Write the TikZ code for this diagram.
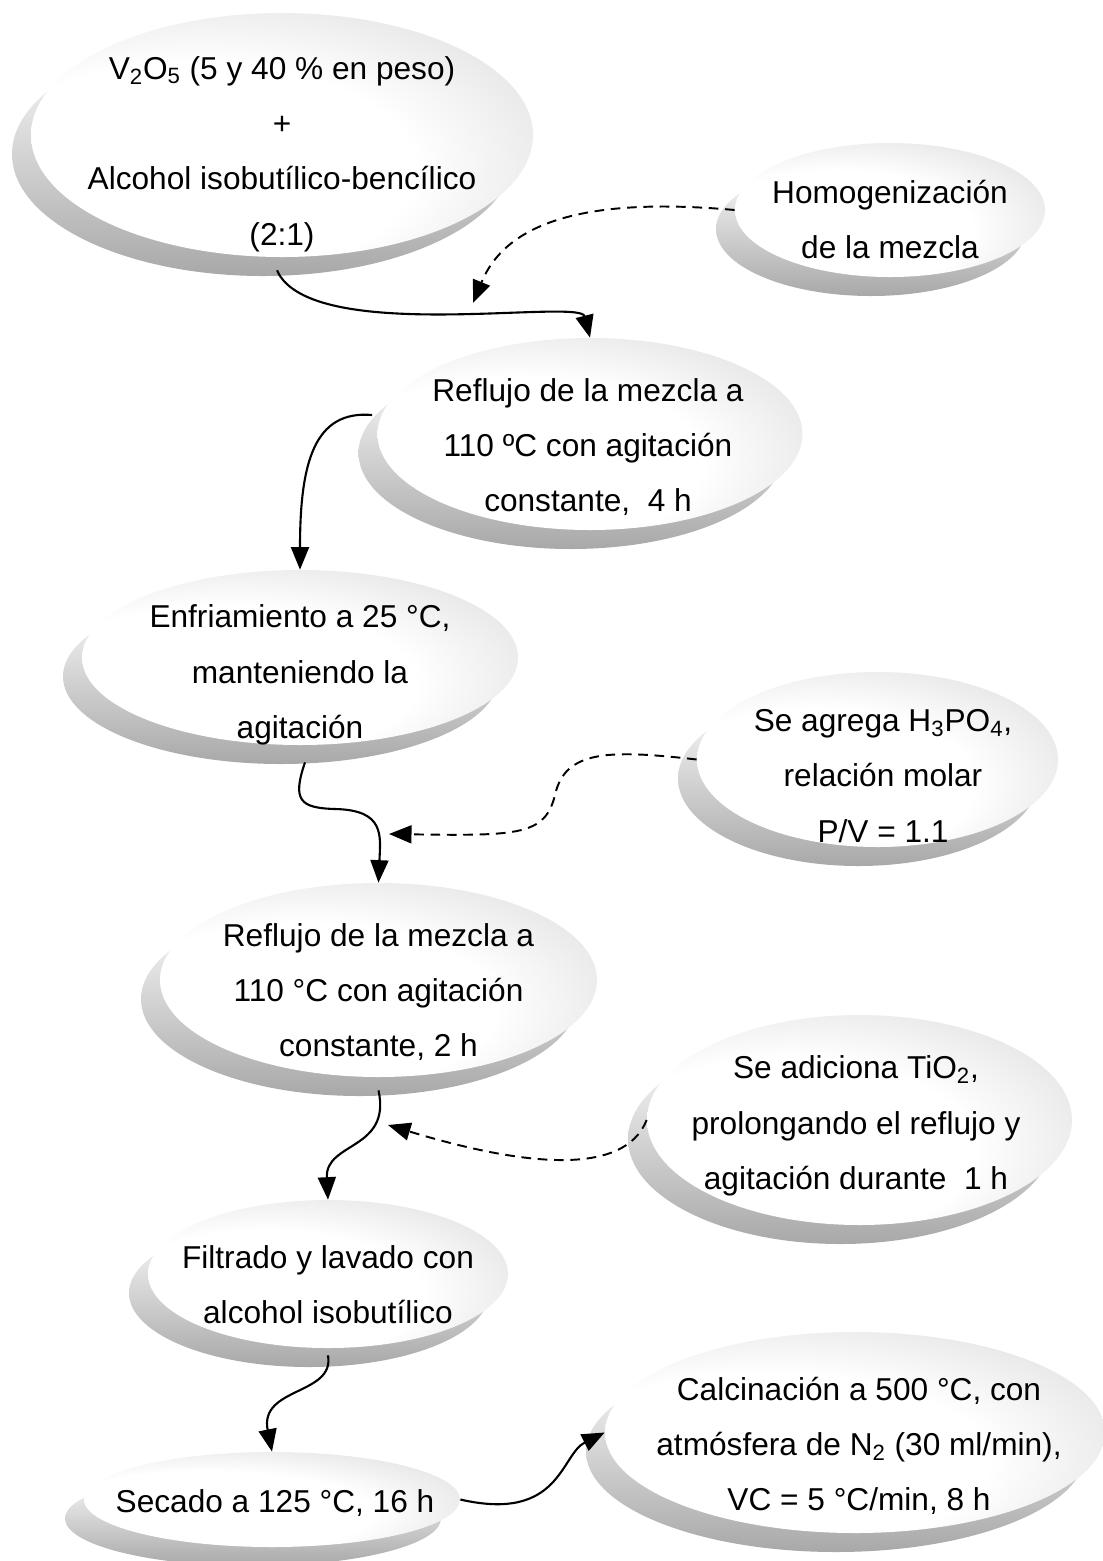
\documentclass[tikz,border=0pt]{standalone}
\usepackage{fontspec}
\setmainfont{Liberation Sans}
\usetikzlibrary{arrows.meta,shapes.geometric,shadows}
\pgfdeclareradialshading{cara}{\pgfpoint{-12bp}{-10bp}}{color(0bp)=(white); color(22bp)=(white); color(52bp)=(gray!42); color(80bp)=(gray!42)}

\begin{document}
\begin{tikzpicture}[
    disco/.style={ellipse, inner sep=0pt, shade, shading=cara,
      general shadow={shadow xshift=-0.38cm, shadow yshift=-0.38cm, top color=white, bottom color=gray!68}},
    texto/.style={align=center, font=\fontsize{18}{31.5}\selectfont},
    flecha/.style={line width=1.2pt, -{Triangle[length=0.45cm, width=0.36cm]}},
    aporte/.style={flecha, line width=1.1pt, dash pattern=on 5.5pt off 3.8pt}]
    \useasboundingbox (0,0) rectangle (22.04,-31.22);
    % pasos
    \node [disco, minimum width=10.04cm, minimum height=4.88cm,
        label={[texto, yshift=-0.38cm]center:{V\textsubscript{2}O\textsubscript{5} (5 y 40 \% en peso)\\+\\Alcohol isobutílico-bencílico\\(2:1)}}] (v2o5) at (5.64,-2.70) {};
    \node [disco, minimum width=6.2cm, minimum height=2.68cm,
        label={[texto, yshift=-0.19cm]center:{Homogenización\\de la mezcla}}] (homog) at (17.8,-4.2) {};
    \node [disco, minimum width=8.5cm, minimum height=3.84cm,
        label={[texto, xshift=-0.04cm, yshift=-0.26cm]center:{Reflujo de la mezcla a\\110 ºC con agitación\\constante,\ \ 4 h}}] (reflujoA) at (11.8,-8.68) {};
    \node [disco, minimum width=8.72cm, minimum height=3.5cm,
        label={[texto, yshift=-0.35cm]center:{Enfriamiento a 25 °C,\\manteniendo la\\agitación}}] (enfria) at (6.0,-13.15) {};
    \node [disco, minimum width=7.22cm, minimum height=3.5cm,
        label={[texto, xshift=0.11cm, yshift=-0.33cm]center:{Se agrega H\textsubscript{3}PO\textsubscript{4},\\relación molar\\P/V = 1.1}}] (fosforico) at (17.55,-15.19) {};
    \node [disco, minimum width=8.74cm, minimum height=3.88cm,
        label={[texto, yshift=-0.24cm]center:{Reflujo de la mezcla a\\110 °C con agitación\\constante, 2 h}}] (reflujoB) at (7.57,-19.6) {};
    \node [disco, minimum width=8.5cm, minimum height=4.2cm,
        label={[texto, xshift=-0.07cm, yshift=-0.12cm]center:{Se adiciona TiO\textsubscript{2},\\prolongando el reflujo y\\agitación durante\ \ 1 h}}] (titanio) at (17.19,-22.4) {};
    \node [disco, minimum width=7.2cm, minimum height=2.96cm,
        label={[texto, yshift=-0.21cm]center:{Filtrado y lavado con\\alcohol isobutílico}}] (filtrado) at (6.56,-25.48) {};
    \node [disco, minimum width=7.52cm, minimum height=1.9cm,
        label={[texto, xshift=0.06cm, yshift=-0.07cm]center:{Secado a 125 °C, 16 h}}] (secado) at (5.44,-29.99) {};
    \node [disco, minimum width=10.0cm, minimum height=4.02cm,
        label={[texto, xshift=0.08cm, yshift=-0.27cm]center:{Calcinación a 500 °C, con\\atmósfera de N\textsubscript{2} (30 ml/min),\\VC = 5 °C/min, 8 h}}] (calcina) at (17.1,-28.65) {};
    % flujo principal
    \draw [flecha] ([shift={(-0.1,-0.26)}]v2o5.south) .. controls +(0.66,-1.5) and +(-0.2,0.8) .. (reflujoA.north);
    \draw [flecha] ([shift={(-0.1,0.38)}]reflujoA.west) .. controls +(-1.16,0.1) and +(0,2.14) .. (enfria.north);
    \draw [flecha] ([shift={(0.1,-0.34)}]enfria.south) .. controls +(-0.26,-0.76) and +(-0.7,0.02) .. (6.7,-16.18)
        .. controls +(1.0,-0.02) and +(0.04,0.94) .. (reflujoB.north);
    \draw [flecha] ([yshift=-0.26cm]reflujoB.south) .. controls +(0.26,-1.2) and +(-0.06,1.16) .. (filtrado.north);
    \draw [flecha] ([yshift=-0.14cm]filtrado.south) .. controls +(0.14,-0.8) and +(-0.26,1.3) .. (secado.north);
    \draw [flecha] (secado.east) .. controls +(2.0,-0.46) and +(-0.88,-0.44) .. (calcina.west);
    % aportes
    \coordinate (puntoA) at (9.46,-6.06);
    \coordinate (puntoB) at (7.78,-16.68);
    \coordinate (puntoC) at (7.76,-22.5);
    \draw [aporte] (homog.west) .. controls +(-3.1,0.28) and +(0.64,1.56) .. (puntoA);
    \draw [aporte] (fosforico.west) .. controls +(-1.76,0.2) and +(0.2,0.9) .. (11.1,-15.9)
        .. controls +(-0.2,-0.8) and +(2.62,-0.04) .. (puntoB);
    \draw [aporte] (titanio.west) .. controls +(-0.46,-1.16) and +(2.64,-0.8) .. (puntoC);
\end{tikzpicture}
\end{document}
